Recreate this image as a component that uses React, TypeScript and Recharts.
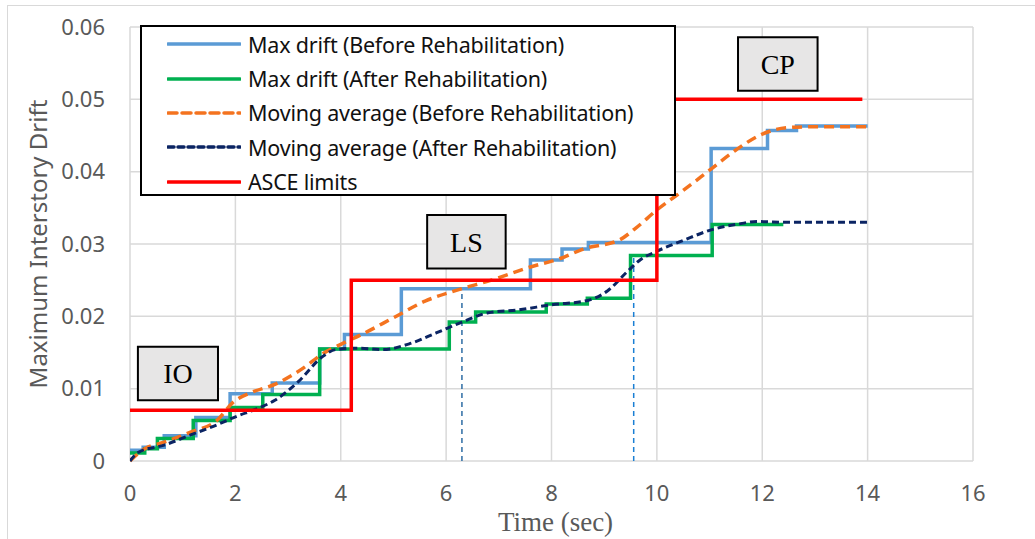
import React from "react";
import {
  LineChart,
  Line,
  XAxis,
  YAxis,
  CartesianGrid,
  Legend,
  ReferenceArea,
  Label,
} from "recharts";

// Max drift, before rehabilitation (step values)
const beforeTime = [0, 0.25, 0.65, 1.25, 1.9, 2.7, 3.6, 4.07, 5.15, 7.6, 8.2, 8.7, 11.03, 12.1, 12.65, 14];
const beforeDrift = [0.0015, 0.0019, 0.0035, 0.006, 0.0093, 0.0108, 0.0155, 0.0175, 0.0238, 0.0278, 0.0293, 0.0302, 0.0432, 0.0457, 0.0463, 0.0463];

// Max drift, after rehabilitation (step values)
const afterTime = [0, 0.28, 0.52, 1.2, 1.9, 2.52, 3.6, 6.06, 6.56, 7.9, 8.68, 9.5, 11.05, 12.4];
const afterDrift = [0.0011, 0.0017, 0.0031, 0.0056, 0.0074, 0.0092, 0.0155, 0.0192, 0.0206, 0.0217, 0.0225, 0.0284, 0.0327, 0.0327];

// moving averages
const maBeforeTime = [0, 0.28, 0.65, 1.15, 1.65, 1.97, 2.28, 2.78, 3.28, 3.65, 4.02, 4.4, 5.0, 5.6, 6.24, 6.86, 7.5, 8.24, 8.6, 9.3, 9.6, 10.0, 10.5, 11.0, 11.5, 12.0, 12.5, 13.0, 14.0];
const maBeforeDrift = [0, 0.0017, 0.0026, 0.004, 0.0056, 0.0082, 0.0094, 0.0107, 0.0128, 0.0148, 0.0162, 0.0175, 0.0198, 0.0221, 0.0237, 0.025, 0.0266, 0.0282, 0.0293, 0.0306, 0.0322, 0.0347, 0.0374, 0.0402, 0.043, 0.0452, 0.0461, 0.0462, 0.0462];

const maAfterTime = [0, 0.16, 0.65, 1.15, 1.65, 2.03, 2.4, 2.75, 3.2, 3.65, 3.9, 4.34, 4.8, 5.3, 5.81, 6.3, 6.8, 7.38, 8.0, 8.69, 9.06, 9.44, 9.7, 10.0, 10.5, 11.1, 11.5, 11.9, 12.5, 14];
const maAfterDrift = [0, 0.0012, 0.0022, 0.0036, 0.005, 0.0062, 0.0072, 0.0084, 0.011, 0.0144, 0.0154, 0.0156, 0.0154, 0.0162, 0.0177, 0.0192, 0.0205, 0.0209, 0.0216, 0.0222, 0.0235, 0.0262, 0.0279, 0.029, 0.0305, 0.0321, 0.0327, 0.0331, 0.033, 0.033];

// ASCE limits (IO / LS / CP)
const limitTime = [0, 4.2, 10, 13.9];
const limitDrift = [0.007, 0.025, 0.05, 0.05];

// vertical dashed markers
const markerTime = [6.3, 9.56];
const markerDrift = [0.0238, 0.0284];

const xTicks = [0, 2, 4, 6, 8, 10, 12, 14, 16];
const yTicks = [0, 0.01, 0.02, 0.03, 0.04, 0.05, 0.06];

const levelBoxes = [
  { name: "IO", x1: 0.15, x2: 1.67, y1: 0.0084, y2: 0.0158 },
  { name: "LS", x1: 5.64, x2: 7.13, y1: 0.0266, y2: 0.034 },
  { name: "CP", x1: 11.54, x2: 13.05, y1: 0.0512, y2: 0.0586 },
];

const zip = (xs: number[], ys: number[]) => xs.map((x, i) => ({ x, y: ys[i] }));

const legendItems = [
  { label: "Max drift (Before Rehabilitation)", color: "#5B9BD5", dash: "" },
  { label: "Max drift (After Rehabilitation)", color: "#00B050", dash: "" },
  { label: "Moving average (Before Rehabilitation)", color: "#F4731F", dash: "9 5" },
  { label: "Moving average (After Rehabilitation)", color: "#0B2463", dash: "6 4" },
  { label: "ASCE limits", color: "#FF0000", dash: "" },
];

const renderLegend = () => (
  <div
    style={{
      width: 536,
      height: 171,
      boxSizing: "border-box",
      border: "2px solid #000",
      background: "#fff",
    }}
  >
    {legendItems.map((it) => (
      <div
        key={it.label}
        style={{ display: "flex", alignItems: "center", height: 34.4 }}
      >
        <svg width={74} height={8} style={{ marginLeft: 25, flex: "none" }}>
          <line
            x1={1}
            y1={4}
            x2={73}
            y2={4}
            stroke={it.color}
            strokeWidth={3.5}
            strokeDasharray={it.dash || undefined}
            strokeLinecap="round"
          />
        </svg>
        <span
          style={{
            marginLeft: 7,
            fontFamily: "'Noto Sans', sans-serif",
            fontSize: 21.5,
            color: "#111",
            whiteSpace: "nowrap",
            letterSpacing: -0.2,
          }}
        >
          {it.label}
        </span>
      </div>
    ))}
  </div>
);

const App: React.FC = () => {
  return (
    <div
      style={{
        position: "absolute",
        left: 0,
        top: 0,
        width: 1035,
        height: 539,
        overflow: "hidden",
        background: "#fff",
      }}
    >
      <div
        style={{
          position: "absolute",
          left: 7,
          top: 5,
          width: 1100,
          height: 600,
          borderLeft: "1px solid #D9D9D9",
          borderTop: "1px solid #D9D9D9",
        }}
      />
      <LineChart
        width={1035}
        height={539}
        margin={{ top: 27, right: 62, bottom: 0, left: 0 }}
      >
        <CartesianGrid stroke="#D9D9D9" strokeWidth={1.5} />
        <XAxis
          type="number"
          dataKey="x"
          domain={[0, 16]}
          ticks={xTicks}
          allowDataOverflow
          height={78}
          axisLine={false}
          tickLine={false}
          tickSize={0}
          tickMargin={24}
          tick={{ fill: "#595959", fontSize: 22, fontFamily: "'Noto Sans', sans-serif" }}
        >
          <Label
            content={({ viewBox }: any) => (
              <text
                x={viewBox.x + viewBox.width / 2 + 4}
                y={531}
                textAnchor="middle"
                fill="#595959"
                fontSize={27}
                fontFamily="'Liberation Serif', serif"
              >
                Time (sec)
              </text>
            )}
          />
        </XAxis>
        <YAxis
          type="number"
          dataKey="y"
          domain={[0, 0.06]}
          ticks={yTicks}
          width={130}
          axisLine={false}
          tickLine={false}
          tickSize={0}
          tickMargin={25}
          tickFormatter={(v: number) => (v === 0 ? "0" : v.toFixed(2))}
          tick={{ fill: "#595959", fontSize: 22, fontFamily: "'Noto Sans', sans-serif" }}
        >
          <Label
            content={({ viewBox }: any) => {
              const cy = viewBox.y + viewBox.height / 2;
              return (
                <text
                  x={37}
                  y={cy}
                  transform={`rotate(-90, 37, ${cy})`}
                  textAnchor="middle"
                  dominantBaseline="central"
                  fill="#595959"
                  fontSize={24}
                  fontFamily="'Noto Sans', sans-serif"
                >
                  Maximum Interstory Drift
                </text>
              );
            }}
          />
        </YAxis>

        {levelBoxes.map((b) => (
          <ReferenceArea
            key={b.name}
            x1={b.x1}
            x2={b.x2}
            y1={b.y1}
            y2={b.y2}
            fill="#E7E6E6"
            fillOpacity={1}
            stroke="#000"
            strokeWidth={2}
            label={{
              value: b.name,
              position: "center",
              fill: "#000",
              fontSize: 28,
              fontFamily: "'Liberation Serif', serif",
            }}
          />
        ))}

        <Line
          data={zip([markerTime[0], markerTime[0]], [0, markerDrift[0]])}
          dataKey="y"
          stroke="#2E6DA4"
          strokeWidth={1.5}
          strokeDasharray="5 4"
          dot={false}
          isAnimationActive={false}
          legendType="none"
        />
        <Line
          data={zip([markerTime[1], markerTime[1]], [0, markerDrift[1]])}
          dataKey="y"
          stroke="#1A7FD4"
          strokeWidth={1.5}
          strokeDasharray="5 4"
          dot={false}
          isAnimationActive={false}
          legendType="none"
        />

        <Line
          data={zip(beforeTime, beforeDrift)}
          dataKey="y"
          type="stepAfter"
          stroke="#5B9BD5"
          strokeWidth={3.5}
          dot={false}
          isAnimationActive={false}
        />
        <Line
          data={zip(afterTime, afterDrift)}
          dataKey="y"
          type="stepAfter"
          stroke="#00B050"
          strokeWidth={3.5}
          dot={false}
          isAnimationActive={false}
        />
        <Line
          data={zip(maBeforeTime, maBeforeDrift)}
          dataKey="y"
          type="monotone"
          stroke="#F4731F"
          strokeWidth={3.5}
          strokeDasharray="10 6"
          dot={false}
          isAnimationActive={false}
        />
        <Line
          data={zip(maAfterTime, maAfterDrift)}
          dataKey="y"
          type="monotone"
          stroke="#0B2463"
          strokeWidth={3}
          strokeDasharray="7 4"
          dot={false}
          isAnimationActive={false}
        />
        <Line
          data={zip(limitTime, limitDrift)}
          dataKey="y"
          type="stepAfter"
          stroke="#FF0000"
          strokeWidth={3.5}
          dot={false}
          isAnimationActive={false}
        />

        <Legend
          layout="horizontal"
          verticalAlign="middle"
          align="center"
          content={renderLegend}
          wrapperStyle={{ left: 140, top: 25, bottom: "auto", width: 536, height: 171 }}
        />
      </LineChart>
    </div>
  );
};

export default App;
